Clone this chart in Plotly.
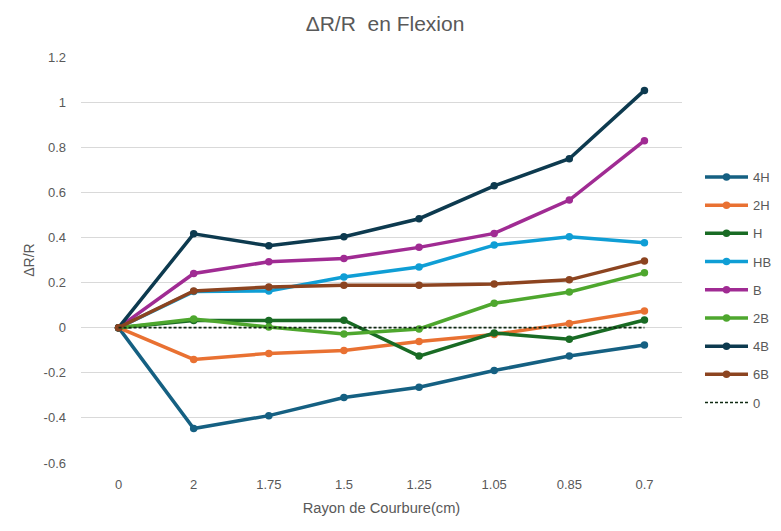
import plotly.graph_objects as go

categories = ["0", "2", "1.75", "1.5", "1.25", "1.05", "0.85", "0.7"]

s_4H = [0, -0.447, -0.39, -0.31, -0.264, -0.19, -0.126, -0.077]
s_2H = [0, -0.141, -0.114, -0.101, -0.061, -0.030, 0.019, 0.074]
s_H = [0, 0.032, 0.032, 0.033, -0.126, -0.024, -0.051, 0.034]
s_HB = [0, 0.160, 0.163, 0.225, 0.269, 0.366, 0.403, 0.376]
s_B = [0, 0.240, 0.292, 0.307, 0.356, 0.418, 0.566, 0.829]
s_2B = [0, 0.038, 0.003, -0.028, -0.006, 0.108, 0.158, 0.243]
s_4B = [0, 0.416, 0.363, 0.403, 0.483, 0.629, 0.749, 1.052]
s_6B = [0, 0.163, 0.180, 0.188, 0.188, 0.194, 0.212, 0.296]
s_0 = [0, 0, 0, 0, 0, 0, 0, 0]

series_names = ["4H", "2H", "H", "HB", "B", "2B", "4B", "6B"]
series_values = [s_4H, s_2H, s_H, s_HB, s_B, s_2B, s_4B, s_6B]
series_colors = ["#156082", "#E97132", "#196B24", "#0F9ED5", "#A02B93",
                 "#4EA72E", "#0D3A4F", "#8C4420"]

y_tickvals = [-0.6, -0.4, -0.2, 0, 0.2, 0.4, 0.6, 0.8, 1.0, 1.2]
y_ticktext = ["-0.6", "-0.4", "-0.2", "0", "0.2", "0.4", "0.6", "0.8", "1", "1.2"]

FONT = "Liberation Sans"
GREY = "#595959"

fig = go.Figure()
for i, (name, vals, col) in enumerate(zip(series_names, series_values, series_colors)):
    fig.add_trace(go.Scatter(
        x=categories, y=vals, name=name, mode="lines+markers",
        line=dict(color=col, width=3.5),
        marker=dict(color=col, size=7.5),
        legendgroup=f"g{i}",
    ))
fig.add_trace(go.Scatter(
    x=categories, y=s_0, name="0", mode="lines",
    line=dict(color="#0f2a12", width=1.6, dash="3px,2px"),
    legendgroup="g9",
))

fig.update_layout(
    width=781, height=531,
    margin=dict(l=81, r=99, t=57, b=68, autoexpand=False),
    paper_bgcolor="white", plot_bgcolor="white",
    font=dict(family=FONT, color=GREY, size=13),
    title=dict(text="ΔR/R\u00a0\u00a0en Flexion", x=0.493, xanchor="center",
               y=1 - 24 / 531, yanchor="middle",
               font=dict(size=21, color=GREY, family=FONT)),
    showlegend=True,
    legend=dict(x=(700 - 81) / 601, xanchor="left", y=1 - (162 - 57) / 406, yanchor="top",
                traceorder="grouped", tracegroupgap=8.3, itemwidth=43,
                font=dict(size=13, color=GREY, family=FONT),
                bgcolor="rgba(0,0,0,0)"),
)
fig.update_xaxes(type="category", range=[-0.5, 7.5], showgrid=False, zeroline=False,
                 showline=False, ticks="", ticklabelstandoff=12,
                 tickfont=dict(size=13, color=GREY),
                 title=dict(text="Rayon de Courbure(cm)", standoff=11,
                            font=dict(size=14.7, color=GREY)))
fig.update_yaxes(range=[-0.6, 1.2], tickvals=y_tickvals, ticktext=y_ticktext,
                 showgrid=True, gridcolor="#D9D9D9", gridwidth=1, zeroline=False,
                 showline=False, ticks="", ticklabelstandoff=14,
                 tickfont=dict(size=13, color=GREY),
                 title=dict(text="ΔR/R", standoff=5, font=dict(size=14, color=GREY)))

fig.write_html("out.html", config={"displayModeBar": False},
               post_script="document.body.style.margin='0';")
